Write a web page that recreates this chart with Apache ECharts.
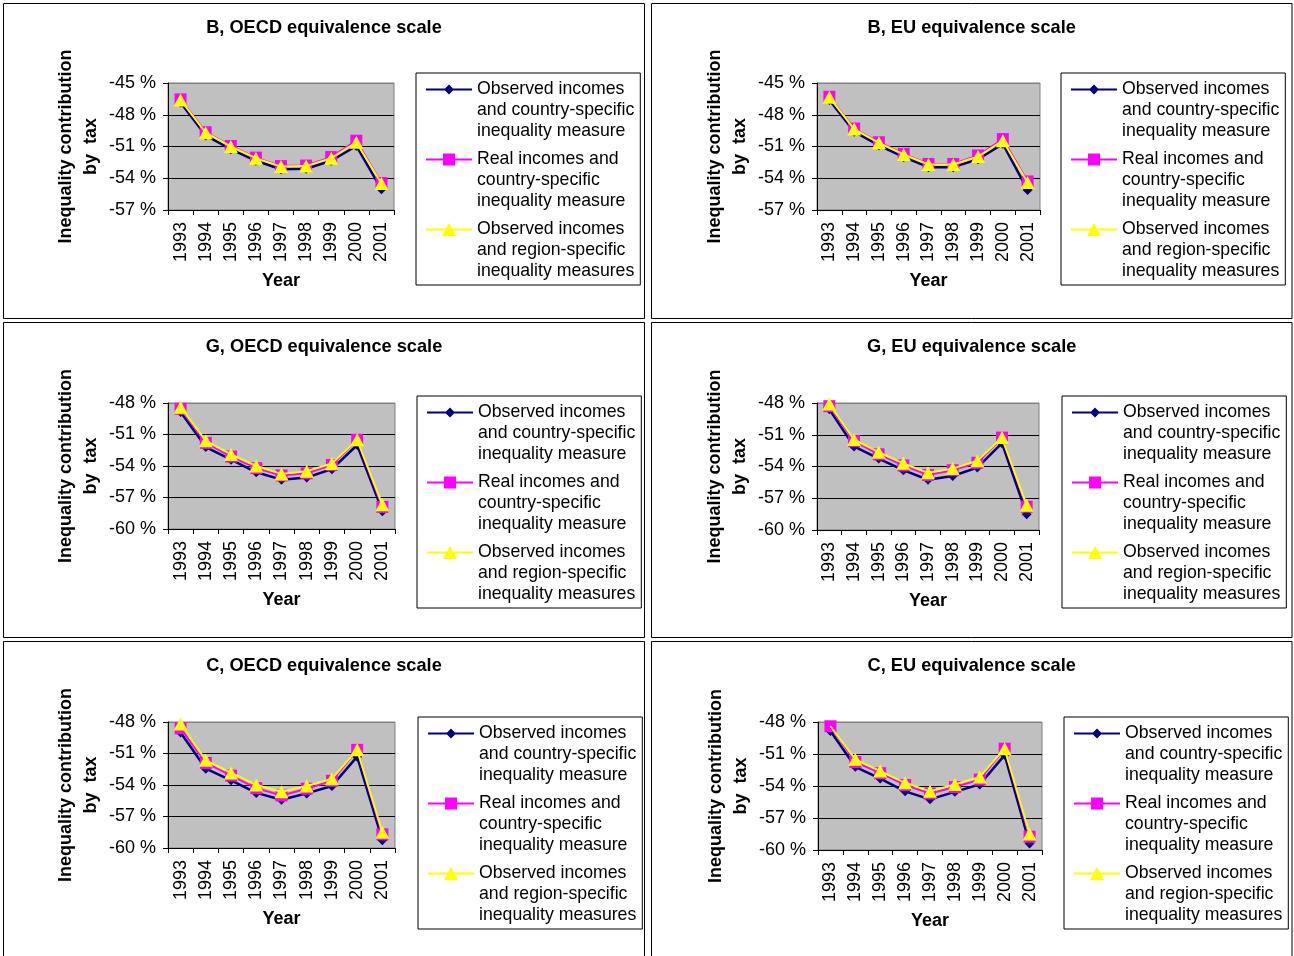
<!DOCTYPE html>
<html><head><meta charset="utf-8">
<script src="https://cdn.jsdelivr.net/npm/echarts@6/dist/echarts.min.js"></script>
<style>html,body{margin:0;padding:0;background:#fff}#c{width:1294px;height:956px}</style>
</head><body><div id="c"></div>
<script>
// ---------- data ----------
const years = ['1993','1994','1995','1996','1997','1998','1999','2000','2001'];
const panelTitles = ['B, OECD equivalence scale','B, EU equivalence scale','G, OECD equivalence scale','G, EU equivalence scale','C, OECD equivalence scale','C, EU equivalence scale'];
const seriesNames = [
  'Observed incomes\nand country-specific\ninequality measure',
  'Real incomes and\ncountry-specific\ninequality measure',
  'Observed incomes\nand region-specific\ninequality measures'
];
const yMinB = -57, yMaxB = -45, yMinGC = -60, yMaxGC = -48, yStep = 3;

const bOecdObserved = [-46.85,-49.95,-51.25,-52.35,-53.15,-53.1,-52.35,-50.95,-55.05];
const bOecdReal     = [-46.55,-49.65,-50.95,-52.05,-52.85,-52.8,-52.0,-50.45,-54.45];
const bOecdRegion   = [-46.6,-49.7,-51.0,-52.1,-52.9,-52.85,-52.1,-50.6,-54.5];

const bEuObserved = [-46.6,-49.6,-50.9,-52.0,-52.95,-52.95,-52.2,-50.75,-55.1];
const bEuReal     = [-46.3,-49.3,-50.6,-51.7,-52.65,-52.65,-51.85,-50.3,-54.3];
const bEuRegion   = [-46.35,-49.35,-50.65,-51.75,-52.7,-52.7,-51.95,-50.45,-54.4];

const gOecdObserved = [-48.85,-52.2,-53.4,-54.6,-55.3,-55.1,-54.3,-52.0,-58.3];
const gOecdReal     = [-48.55,-51.8,-53.1,-54.2,-54.9,-54.7,-53.9,-51.5,-57.9];
const gOecdRegion   = [-48.4,-51.6,-52.9,-54.0,-54.75,-54.5,-53.75,-51.5,-57.7];

const gEuObserved = [-48.6,-52.1,-53.25,-54.35,-55.25,-54.9,-54.1,-51.8,-58.5];
const gEuReal     = [-48.3,-51.6,-52.85,-53.9,-54.8,-54.35,-53.65,-51.27,-57.8];
const gEuRegion   = [-48.1,-51.45,-52.65,-53.7,-54.6,-54.2,-53.45,-51.27,-57.65];

const cOecdObserved = [-49.0,-52.45,-53.55,-54.75,-55.4,-54.8,-54.1,-51.3,-59.25];
const cOecdReal     = [-48.6,-51.9,-53.1,-54.3,-55.0,-54.35,-53.6,-50.65,-58.7];
const cOecdRegion   = [-48.2,-51.65,-52.85,-54.0,-54.65,-54.1,-53.4,-50.65,-58.5];

const cEuObserved = [-48.85,-52.2,-53.3,-54.5,-55.25,-54.55,-53.85,-51.1,-59.4];
const cEuReal     = [-48.4,-51.75,-52.8,-53.9,-54.7,-54.1,-53.4,-50.5,-58.75];
const cEuRegion   = [-48.4,-51.5,-52.6,-53.7,-54.5,-53.85,-53.15,-50.5,-58.5];

const panelData = [
  [bOecdObserved,bOecdReal,bOecdRegion],
  [bEuObserved,bEuReal,bEuRegion],
  [gOecdObserved,gOecdReal,gOecdRegion],
  [gEuObserved,gEuReal,gEuRegion],
  [cOecdObserved,cOecdReal,cOecdRegion],
  [cEuObserved,cEuReal,cEuRegion]
];
const panelRange = [[yMinB,yMaxB],[yMinB,yMaxB],[yMinGC,yMaxGC],[yMinGC,yMaxGC],[yMinGC,yMaxGC],[yMinGC,yMaxGC]];
// marker hidden in the reference (C, EU: region-specific 1993)
const hiddenMarkers = [{panel:5, series:2, index:0}];

// ---------- layout ----------
const FONT = 'Liberation Sans, Arial, sans-serif';
const FS = 18;
const LFS = 17.7;
const panels = [
  {box:[3.5,3.5,641,315],   grid:[168,83,226,127],  legend:[416,73]},
  {box:[651.5,3.5,640.5,315],grid:[817,83,223,127], legend:[1061,73]},
  {box:[3.5,322.5,641,315], grid:[168,403,227,126], legend:[417,396]},
  {box:[651.5,322.5,640.5,315],grid:[817,403,222,127],legend:[1062,396]},
  {box:[3.5,641.5,641,330], grid:[168,722,227,126], legend:[418,717]},
  {box:[651.5,641.5,640.5,330],grid:[818,722,224,128],legend:[1064,717]}
];
const colors = ['#000080','#FF00FF','#FFFF00'];
const symbols = ['diamond','rect','triangle'];
const symbolSizes = [10,12,[14,13]];
const lineWidths = [2.5,2,2];
const frame = 'M0 0 L0 0 Z M46 63 L46 63 Z ';
const lineRect = 'M0 9.5 L46 9.5 L46 11.5 L0 11.5 Z ';
const legendIcons = [
  'path://' + frame + lineRect + 'M23 5.5 L28 10.5 L23 15.5 L18 10.5 Z',
  'path://' + frame + lineRect + 'M17 4.5 L29 4.5 L29 16.5 L17 16.5 Z',
  'path://' + frame + lineRect + 'M23 4 L30 17 L16 17 Z'
];

const option = {
  animation: false,
  backgroundColor: '#ffffff',
  textStyle: {fontFamily: FONT},
  graphic: panels.map(p => ({type:'rect', shape:{x:p.box[0], y:p.box[1], width:p.box[2], height:p.box[3]},
    style:{fill:'none', stroke:'#000', lineWidth:1}, silent:true, z:-1})),
  title: panels.map((p,i) => ({
    text: panelTitles[i], left: p.box[0] + p.box[2]/2, top: p.box[1] + 15, textAlign: 'center', padding: 0,
    textStyle: {fontFamily: FONT, fontSize: 18.2, fontWeight: 'bold', color: '#000'}
  })),
  legend: panels.map((p,i) => ({
    left: p.legend[0], top: p.legend[1], orient: 'vertical',
    data: seriesNames.map((n,k) => ({name:n, icon: legendIcons[k]})),
    itemWidth: 46, itemHeight: 63, itemGap: 7, padding: [6, 6, 3, 10],
    borderColor: '#000', borderWidth: 1, backgroundColor: '#fff', borderRadius: 0,
    selectedMode: false,
    itemStyle: {borderWidth: 0},
    textStyle: {fontFamily: FONT, fontSize: LFS, lineHeight: 21, color: '#000'}
  })),
  grid: panels.map(p => ({left:p.grid[0], top:p.grid[1], width:p.grid[2], height:p.grid[3],
    show:true, backgroundColor:'#C0C0C0', borderColor:'#808080', borderWidth:1, containLabel:false})),
  xAxis: panels.map((p,i) => ({
    type:'category', gridIndex:i, data: years, boundaryGap: true,
    name: 'Year', nameLocation: 'middle', nameGap: 62,
    nameTextStyle: {fontFamily: FONT, fontSize: FS, fontWeight: 'bold', color: '#000'},
    axisLine: {lineStyle: {color:'#000', width:1}},
    axisTick: {show:true, length:5, lineStyle:{color:'#000'}},
    axisLabel: {rotate: 90, margin: 12, interval: 0, fontFamily: FONT, fontSize: FS, color: '#000'},
    splitLine: {show:false}
  })),
  yAxis: panels.map((p,i) => ({
    type:'value', gridIndex:i, min: panelRange[i][0], max: panelRange[i][1], interval: yStep,
    name: 'Inequality contribution\nby  tax', nameLocation: 'middle', nameGap: 64,
    nameTextStyle: {fontFamily: FONT, fontSize: FS, fontWeight: 'bold', color: '#000', lineHeight: 25},
    axisLine: {show:true, lineStyle: {color:'#000', width:1}},
    axisTick: {show:true, length:5, lineStyle:{color:'#000'}},
    axisLabel: {margin: 12, fontFamily: FONT, fontSize: FS, color: '#000', formatter: v => v + ' %'},
    splitLine: {show:true, lineStyle:{color:['#000000','#000000','#000000','#000000','#808080'], width:1}}
  })),
  series: []
};

panelData.forEach((sets, i) => {
  sets.forEach((vals, k) => {
    const data = vals.map((v, idx) => {
      const hide = hiddenMarkers.some(h => h.panel === i && h.series === k && h.index === idx);
      return hide ? {value: v, symbol: 'none'} : v;
    });
    option.series.push({
      type: 'line', name: seriesNames[k], xAxisIndex: i, yAxisIndex: i, data: data,
      symbol: symbols[k], symbolSize: symbolSizes[k], showAllSymbol: true,
      itemStyle: {color: colors[k], borderWidth: 0},
      lineStyle: {color: colors[k], width: lineWidths[k]},
      emphasis: {disabled: true}, z: 2 + k
    });
  });
});

const chart = echarts.init(document.getElementById('c'), null, {renderer: 'canvas'});
chart.setOption(option);
</script>
</body></html>
